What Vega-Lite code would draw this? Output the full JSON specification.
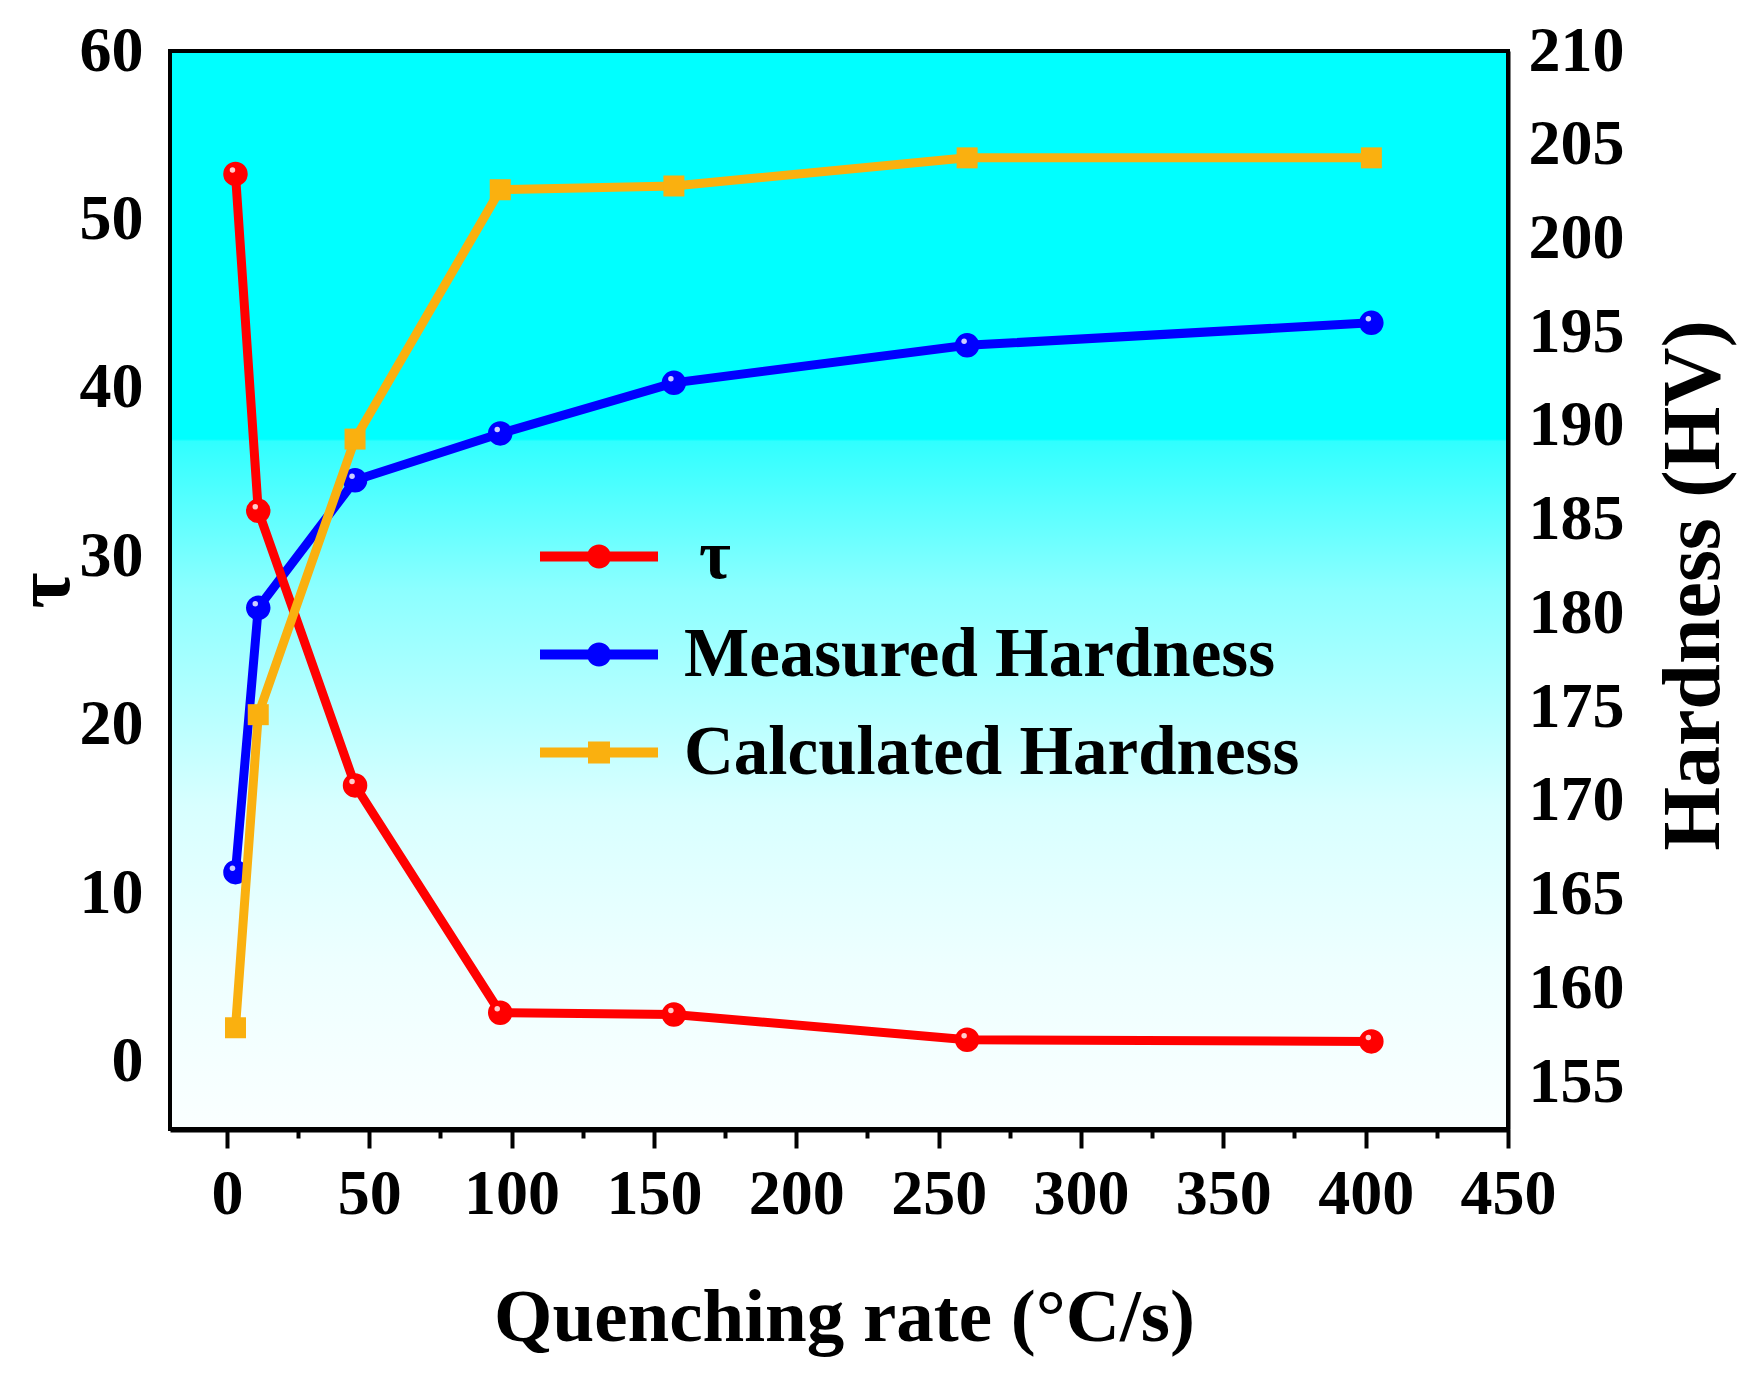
{
  "$schema": "https://vega.github.io/schema/vega-lite/v6.json",
  "width": 1338,
  "height": 1078,
  "autosize": "none",
  "padding": {"left": 170, "top": 51, "right": 246, "bottom": 252},
  "background": "white",
  "data": {
    "values": [
      {"series": "τ", "rate": 3, "value": 52.7},
      {"series": "τ", "rate": 11, "value": 32.7},
      {"series": "τ", "rate": 45, "value": 16.4},
      {"series": "τ", "rate": 96, "value": 2.9},
      {"series": "τ", "rate": 157, "value": 2.8},
      {"series": "τ", "rate": 260, "value": 1.3},
      {"series": "τ", "rate": 402, "value": 1.2},
      {"series": "Measured Hardness", "rate": 3, "value": 166.2},
      {"series": "Measured Hardness", "rate": 11, "value": 180.3},
      {"series": "Measured Hardness", "rate": 45, "value": 187.1},
      {"series": "Measured Hardness", "rate": 96, "value": 189.6},
      {"series": "Measured Hardness", "rate": 157, "value": 192.3},
      {"series": "Measured Hardness", "rate": 260, "value": 194.3},
      {"series": "Measured Hardness", "rate": 402, "value": 195.5},
      {"series": "Calculated Hardness", "rate": 3, "value": 157.9},
      {"series": "Calculated Hardness", "rate": 11, "value": 174.6},
      {"series": "Calculated Hardness", "rate": 45, "value": 189.3},
      {"series": "Calculated Hardness", "rate": 96, "value": 202.6},
      {"series": "Calculated Hardness", "rate": 157, "value": 202.8},
      {"series": "Calculated Hardness", "rate": 260, "value": 204.3},
      {"series": "Calculated Hardness", "rate": 402, "value": 204.3}
    ]
  },
  "encoding": {
    "x": {
      "field": "rate",
      "type": "quantitative",
      "scale": {"domain": [-20, 450], "nice": false, "zero": false},
      "axis": {
        "values": [0, 25, 50, 75, 100, 125, 150, 175, 200, 225, 250, 275, 300, 325, 350, 375, 400, 425, 450],
        "format": "d",
        "labelExpr": "datum.value % 50 === 0 ? datum.label : ''",
        "tickSize": {"condition": {"test": "datum.value % 50 === 0", "value": 19}, "value": 9},
        "labelPadding": 14,
        "labelBaseline": "top",
        "domainWidth": 6,
        "title": "Quenching rate (°C/s)",
        "titleFontSize": 75,
        "titleX": 674,
        "titleY": 211,
        "titleAlign": "center",
        "titleBaseline": "alphabetic"
      }
    }
  },
  "layer": [
    {
      "data": {"values": [{}]},
      "mark": {
        "type": "rect",
        "stroke": "black",
        "strokeWidth": 4,
        "fill": {
          "gradient": "linear",
          "x1": 0, "y1": 0, "x2": 0, "y2": 1,
          "stops": [
            {"offset": 0, "color": "#00FFFF"},
            {"offset": 0.36, "color": "#00FFFF"},
            {"offset": 0.362, "color": "#30FFFF"},
            {"offset": 0.5, "color": "#8CFFFF"},
            {"offset": 0.7, "color": "#D8FFFF"},
            {"offset": 0.85, "color": "#EEFFFF"},
            {"offset": 1, "color": "#FAFFFF"}
          ]
        }
      },
      "encoding": {
        "x": {"value": 0},
        "x2": {"value": "width"},
        "y": {"value": 0},
        "y2": {"value": "height"}
      }
    },
    {
      "transform": [{"filter": "datum.series === 'Measured Hardness'"}],
      "encoding": {
        "y": {
          "field": "value",
          "type": "quantitative",
          "scale": {"domain": [152.5, 210], "nice": false, "zero": false},
          "axis": {
            "orient": "right",
            "values": [155, 157.5, 160, 162.5, 165, 167.5, 170, 172.5, 175, 177.5, 180, 182.5, 185, 187.5, 190, 192.5, 195, 197.5, 200, 202.5, 205, 207.5, 210],
            "format": "d",
            "labelExpr": "datum.value % 5 === 0 ? datum.label : ''",
            "tickSize": {"condition": {"test": "datum.value % 5 === 0", "value": -20}, "value": -10},
            "labelPadding": 40,
            "title": "Hardness (HV)",
            "titleFontSize": 82,
            "titleAngle": 270,
            "titleX": 185,
            "titleY": 534,
            "titleAlign": "center",
            "titleBaseline": "middle"
          }
        },
        "color": {
          "field": "series",
          "type": "nominal",
          "scale": {"domain": ["τ", "Measured Hardness", "Calculated Hardness"], "range": ["#FF0000", "#0000FF", "#FAB00F"]},
          "legend": {
            "orient": "none",
            "legendX": 394.5,
            "legendY": 471,
            "title": null,
            "padding": 0,
            "symbolSize": 625,
            "symbolStrokeWidth": 0,
            "symbolType": "M-4.72,-0.4L4.72,-0.4L4.72,0.4L-4.72,0.4Z M0.96,0A0.96,0.96,0,1,1,-0.96,0A0.96,0.96,0,1,1,0.96,0Z",
            "labelFont": "Liberation Serif",
            "labelFontSize": 69,
            "labelFontWeight": "bold",
            "labelColor": "black",
            "labelLimit": 1000,
            "labelOffset": 50.5,
            "rowPadding": 28,
            "encode": {
              "labels": {
                "update": {
                  "dx": {"signal": "datum.value === 'τ' ? 15 : 0"}
                }
              },
              "symbols": {
                "update": {
                  "shape": {"signal": "datum.value === 'Calculated Hardness' ? 'M-4.72,-0.4L4.72,-0.4L4.72,0.4L-4.72,0.4Z M-0.88,-0.88L0.88,-0.88L0.88,0.88L-0.88,0.88Z' : 'M-4.72,-0.4L4.72,-0.4L4.72,0.4L-4.72,0.4Z M0.96,0A0.96,0.96,0,1,1,-0.96,0A0.96,0.96,0,1,1,0.96,0Z'"},
                  "fill": {"signal": "scale('color', datum.value)"},
                  "stroke": {"value": "transparent"},
                  "opacity": {"value": 1},
                  "size": {"value": 625}
                }
              }
            }
          }
        }
      },
      "layer": [
        {"mark": {"type": "line", "strokeWidth": 9}},
        {"mark": {"type": "point", "filled": true, "shape": "circle", "size": 600, "opacity": 1}},
        {"mark": {"type": "point", "filled": true, "shape": "circle", "size": 30, "opacity": 0.8, "xOffset": -3, "yOffset": -4}, "encoding": {"color": {"value": "#ffffff"}}}
      ]
    },
    {
      "transform": [{"filter": "datum.series === 'τ'"}],
      "encoding": {
        "y": {
          "field": "value",
          "type": "quantitative",
          "scale": {"domain": [-4, 60], "nice": false, "zero": false},
          "axis": {
            "orient": "left",
            "values": [0, 5, 10, 15, 20, 25, 30, 35, 40, 45, 50, 55, 60],
            "format": "d",
            "labelExpr": "datum.value % 10 === 0 ? datum.label : ''",
            "tickSize": {"condition": {"test": "datum.value % 10 === 0", "value": -22}, "value": -12},
            "labelPadding": 49,
            "title": "τ",
            "titleFontSize": 78,
            "titleAngle": 270,
            "titleX": -125,
            "titleY": 539,
            "titleAlign": "center",
            "titleBaseline": "middle"
          }
        },
        "color": {
          "field": "series",
          "type": "nominal",
          "scale": {"domain": ["τ", "Measured Hardness", "Calculated Hardness"], "range": ["#FF0000", "#0000FF", "#FAB00F"]}
        }
      },
      "layer": [
        {"mark": {"type": "line", "strokeWidth": 9}},
        {"mark": {"type": "point", "filled": true, "shape": "circle", "size": 600, "opacity": 1}},
        {"mark": {"type": "point", "filled": true, "shape": "circle", "size": 30, "opacity": 0.8, "xOffset": -3, "yOffset": -4}, "encoding": {"color": {"value": "#ffffff"}}}
      ]
    },
    {
      "transform": [{"filter": "datum.series === 'Calculated Hardness'"}],
      "encoding": {
        "y": {
          "field": "value",
          "type": "quantitative",
          "scale": {"domain": [152.5, 210], "nice": false, "zero": false},
          "axis": null
        },
        "color": {
          "field": "series",
          "type": "nominal",
          "scale": {"domain": ["τ", "Measured Hardness", "Calculated Hardness"], "range": ["#FF0000", "#0000FF", "#FAB00F"]}
        }
      },
      "layer": [
        {"mark": {"type": "line", "strokeWidth": 9}},
        {"mark": {"type": "point", "filled": true, "shape": "square", "size": 441, "opacity": 1}}
      ]
    }
  ],
  "resolve": {"scale": {"y": "independent"}, "axis": {"y": "independent"}},
  "config": {
    "font": "Liberation Serif",
    "view": {"stroke": null},
    "axis": {
      "grid": false,
      "zindex": 1,
      "domainColor": "black",
      "domainWidth": 4,
      "tickColor": "black",
      "tickWidth": 4,
      "labelColor": "black",
      "labelFont": "Liberation Serif",
      "labelFontSize": 64,
      "labelFontWeight": "bold",
      "labelOverlap": false,
      "labelFlush": false,
      "labelBound": false,
      "titleFont": "Liberation Serif",
      "titleFontWeight": "bold",
      "titleColor": "black"
    }
  }
}
